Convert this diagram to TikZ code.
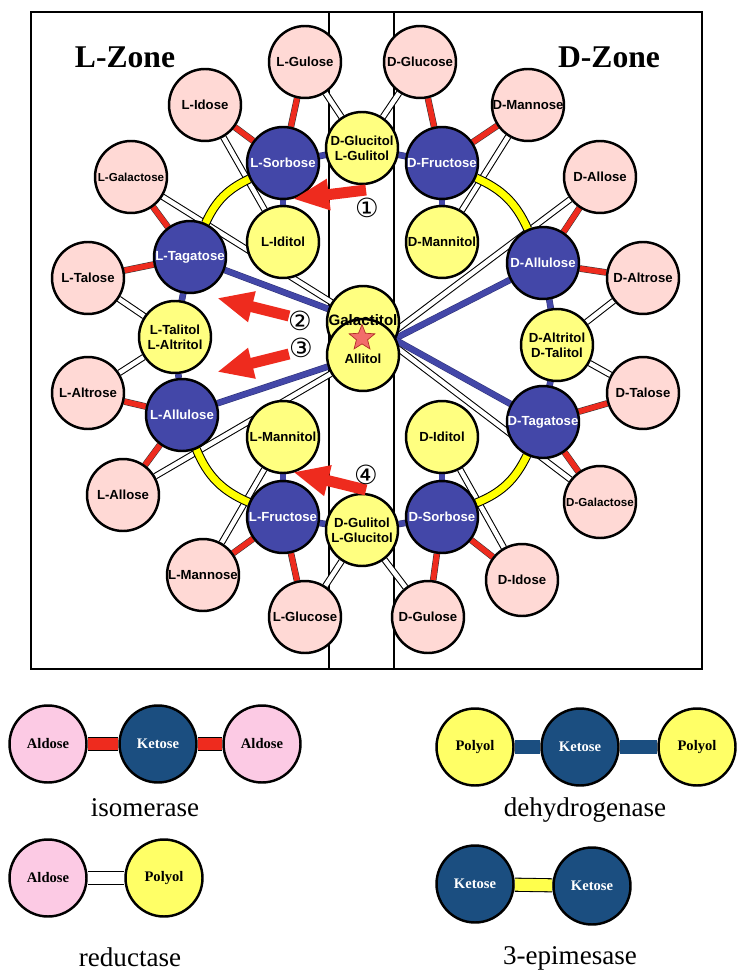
\documentclass[tikz,border=0pt]{standalone}
\usepackage{fontspec}
\setmainfont{Liberation Serif}
\setsansfont{Liberation Sans}
\newfontfamily\symfont{DejaVu Sans}
\usetikzlibrary{arrows.meta,shapes.geometric,backgrounds}
\definecolor{cald}{HTML}{FFD9D5}
\definecolor{cket}{HTML}{4347A8}
\definecolor{cpol}{HTML}{FFFF80}
\definecolor{cred}{HTML}{EE2B1E}
\definecolor{cepi}{HTML}{FFFF00}
\definecolor{lald}{HTML}{FCCAE4}
\definecolor{lket}{HTML}{1B4E80}
\definecolor{lpol}{HTML}{FFFF66}
\definecolor{cstar}{HTML}{F26D6A}
\definecolor{cstarD}{HTML}{B03028}
\tikzset{
  sugar/.style={circle, draw=black, line width=1.4pt, minimum size=1.44cm,
                inner sep=0pt, align=center,
                font=\sffamily\bfseries\fontsize{7.5}{8.5}\selectfont},
  aldo/.style={sugar, fill=cald},
  keto/.style={sugar, fill=cket, text=white},
  poly/.style={sugar, fill=cpol},
  smtxt/.style={font=\sffamily\bfseries\fontsize{6.6}{7.5}\selectfont},
  lgsugar/.style={circle, draw=black, line width=1.4pt, minimum size=1.54cm,
                inner sep=0pt, font=\bfseries\fontsize{8.3}{9}\selectfont},
  lgaldo/.style={lgsugar, fill=lald},
  lgketo/.style={lgsugar, fill=lket, text=white},
  lgpoly/.style={lgsugar, fill=lpol},
  iso/.style={draw=black!80, double=cred, double distance=0.11cm, line width=0.3pt},
  dhg/.style={draw=cket!70!black, double=cket, double distance=0.11cm, line width=0.3pt},
  rdc/.style={draw=black, double=white, double distance=0.09cm, line width=0.6pt},
  epi/.style={draw=black, double=cepi, double distance=0.14cm, line width=0.6pt},
  lgbar/.style={draw=black, double distance=0.24cm, line width=0.6pt},
  bigarr/.style={draw=cred, line width=0.22cm, -{Triangle[length=0.72cm, width=0.58cm]}},
  enz/.style={font=\fontsize{15.4}{18}\selectfont},
  zone/.style={font=\bfseries\fontsize{18}{21}\selectfont},
  num/.style={font=\symfont\fontsize{15}{16}\selectfont, inner sep=0pt},
}
\begin{document}
\begin{tikzpicture}[x=0.02cm, y=0.02cm]
  \useasboundingbox (0,0) rectangle (750,-979);
  % aldoses
  \node[aldo] (lgul) at (305,-62) {L-Gulose};
  \node[aldo] (dglc) at (420,-62) {D-Glucose};
  \node[aldo] (lido) at (205,-105) {L-Idose};
  \node[aldo] (dman) at (528,-105) {D-Mannose};
  \node[aldo, smtxt] (lgal) at (131,-177) {L-Galactose};
  \node[aldo] (dall) at (600,-177) {D-Allose};
  \node[aldo] (ltal) at (88,-278) {L-Talose};
  \node[aldo] (dalt) at (643,-278) {D-Altrose};
  \node[aldo] (lalt) at (88,-393) {L-Altrose};
  \node[aldo] (dtal) at (643,-393) {D-Talose};
  \node[aldo] (lall) at (123,-495) {L-Allose};
  \node[aldo, smtxt] (dgal) at (600,-502) {D-Galactose};
  \node[aldo] (lman) at (203,-575) {L-Mannose};
  \node[aldo] (dido) at (522,-580) {D-Idose};
  \node[aldo] (lglc) at (305,-617) {L-Glucose};
  \node[aldo] (dgul) at (428,-617) {D-Gulose};
  % ketoses
  \node[keto] (lsor) at (283,-163) {L-Sorbose};
  \node[keto] (dfru) at (442,-163) {D-Fructose};
  \node[keto] (ltag) at (190,-257) {L-Tagatose};
  \node[keto] (dpsi) at (543,-263) {D-Allulose};
  \node[keto] (lpsi) at (182,-415) {L-Allulose};
  \node[keto] (dtag) at (543,-422) {D-Tagatose};
  \node[keto] (lfru) at (283,-517) {L-Fructose};
  \node[keto] (dsor) at (442,-517) {D-Sorbose};
  % polyols
  \node[poly] (glcol) at (362,-148) {D-Glucitol\\L-Gulitol};
  \node[poly] (lidol) at (283,-242) {L-Iditol};
  \node[poly] (dmanol) at (442,-242) {D-Mannitol};
  \node[poly] (ltalol) at (175,-337) {L-Talitol\\L-Altritol};
  \node[poly] (daltol) at (557,-345) {D-Altritol\\D-Talitol};
  \node[poly] (lmanol) at (283,-437) {L-Mannitol};
  \node[poly] (didol) at (442,-437) {D-Iditol};
  \node[poly] (gulol) at (362,-530) {D-Gulitol\\L-Glucitol};
  \node[poly] (galol) at (363,-322) {};
  \node[poly] (allol) at (363,-355) {\\[1pt]Allitol};
  \node[font=\sffamily\bfseries\fontsize{8.6}{9}\selectfont, inner sep=0pt] (galtxt) at (363,-320) {Galactitol};
  \node[star, star points=5, star point ratio=2.3, minimum size=0.54cm, inner sep=0pt,
        fill=cstar, draw=cstarD, line width=0.4pt] (star) at (362,-338) {};

  \node[zone] (lzone) at (125,-57) {L-Zone};
  \node[zone] (dzone) at (609,-57) {D-Zone};

  % conversion arrows
  \coordinate (a1s) at (366,-190); \coordinate (a1e) at (293,-199);
  \coordinate (a2s) at (289,-316); \coordinate (a2e) at (217,-298);
  \coordinate (a3s) at (289,-354); \coordinate (a3e) at (217,-372);
  \coordinate (a4s) at (366,-490); \coordinate (a4e) at (293,-472);
  \foreach \a/\b in {a1s/a1e,a2s/a2e,a3s/a3e,a4s/a4e}
     \draw[bigarr] (\a)--(\b);
  \node[num] (n1) at (367,-208) {①};
  \node[num] (n2) at (300,-321) {②};
  \node[num] (n3) at (301,-348) {③};
  \node[num] (n4) at (366,-475) {④};

  % legend
  \node[lgaldo] (ial1) at (48,-744) {Aldose};
  \node[lgketo] (ik) at (158,-744) {Ketose};
  \node[lgaldo] (ial2) at (262,-744) {Aldose};
  \node[enz] (isolab) at (145,-808) {isomerase};
  \node[lgpoly] (dpo1) at (475,-747) {Polyol};
  \node[lgketo] (dk) at (580,-747) {Ketose};
  \node[lgpoly] (dpo2) at (697,-747) {Polyol};
  \node[enz] (dhlab) at (585,-810) {dehydrogenase};
  \node[lgaldo] (ral) at (48,-878) {Aldose};
  \node[lgpoly] (rpo) at (164,-878) {Polyol};
  \node[enz] (rdlab) at (130,-957) {reductase};
  \node[lgketo] (ek1) at (475,-884) {Ketose};
  \node[lgketo] (ek2) at (592,-886) {Ketose};
  \node[enz] (eplab) at (570,-958) {3-epimesase};

  \begin{scope}[on background layer]
    \draw[line width=1.2pt] (31,-12) rectangle (702,-669);
    \draw[line width=1.2pt] (329,-12) -- (329,-669);
    \draw[line width=1.2pt] (394,-12) -- (394,-669);
    % reductase
    \foreach \a/\b in {lgul/glcol,dglc/glcol,lido/lidol,dman/dmanol,lgal/galol,
                       dall/allol,ltal/ltalol,dalt/daltol,lalt/ltalol,dtal/daltol,
                       lall/allol,dgal/galol,lman/lmanol,dido/didol,lglc/gulol,dgul/gulol}
       \draw[rdc] (\a)--(\b);
    % isomerase
    \foreach \a/\b in {lsor/lgul,lsor/lido,dfru/dglc,dfru/dman,ltag/lgal,ltag/ltal,
                       dpsi/dall,dpsi/dalt,lpsi/lalt,lpsi/lall,dtag/dtal,dtag/dgal,
                       lfru/lman,lfru/lglc,dsor/dgul,dsor/dido}
       \draw[iso] (\a)--(\b);
    % dehydrogenase
    \foreach \a/\b in {lsor/glcol,lsor/lidol,dfru/glcol,dfru/dmanol,ltag/galol,
                       ltag/ltalol,dpsi/allol,dpsi/daltol,lpsi/allol,lpsi/ltalol,
                       dtag/galol,dtag/daltol,lfru/lmanol,lfru/gulol,dsor/didol,dsor/gulol}
       \draw[dhg] (\a)--(\b);
    % 3-epimerase
    \draw[epi] (lsor) to[bend right=20] (ltag);
    \draw[epi] (dfru) to[bend left=21] (dpsi);
    \draw[epi] (lpsi) to[bend right=22] (lfru);
    \draw[epi] (dtag) to[bend left=21] (dsor);
    % legend bars
    \draw[lgbar, double=cred] (ial1)--(ik);
    \draw[lgbar, double=cred] (ik)--(ial2);
    \draw[lgbar, draw=lket, double=lket] (dpo1)--(dk);
    \draw[lgbar, draw=lket, double=lket] (dk)--(dpo2);
    \draw[lgbar, double=white] (ral)--(rpo);
    \draw[lgbar, double=cepi!70!white] (ek1)--(ek2);
  \end{scope}
\end{tikzpicture}
\end{document}
